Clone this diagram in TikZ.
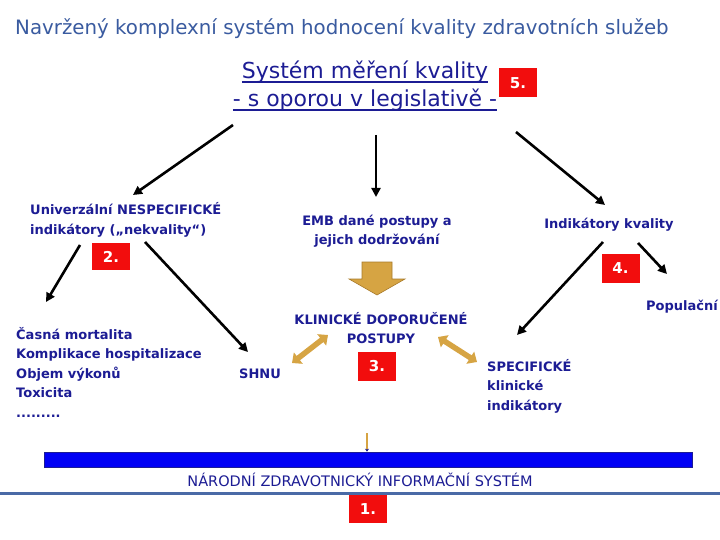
\documentclass[tikz,border=0pt]{standalone}
\usepackage{fontspec}
\setmainfont{DejaVu Sans}
\usepackage{tikz}
\usetikzlibrary{arrows.meta,positioning,calc}
\definecolor{nzisNavy}{HTML}{1C1C94}
\definecolor{nzisTitle}{HTML}{3A5BA0}
\definecolor{nzisRed}{HTML}{F20D0D}
\definecolor{nzisGold}{HTML}{D6A443}
\definecolor{nzisGoldDark}{HTML}{A87A2A}
\definecolor{nzisBlue}{HTML}{0000F5}
\definecolor{nzisRule}{HTML}{4A6AA6}
\newsavebox{\nzisbox}
\newcommand{\nzisul}[1]{\sbox{\nzisbox}{#1}%
  \makebox[0pt][l]{\rule[-4pt]{\wd\nzisbox}{1.6pt}}\usebox{\nzisbox}}

\begin{document}
\begin{tikzpicture}[x=1pt,y=-1pt,
    lbl/.style={text=nzisNavy,font=\fontsize{13}{19.5}\selectfont\bfseries,inner sep=0pt},
    num/.style={fill=nzisRed,text=white,font=\fontsize{15}{15}\selectfont\bfseries,
                minimum width=38pt,minimum height=29pt,inner sep=0pt},
    arr/.style={draw=black,line width=2.6pt,-{Triangle[length=9pt,width=9pt]}},
    dbl/.style={draw=nzisGold,line width=5.5pt,
                {Triangle[length=8pt,width=14pt]}-{Triangle[length=8pt,width=14pt]}}]
  \useasboundingbox[fill=white] (0,0) rectangle (720,540);
  \node[anchor=west,inner sep=0pt,text=nzisTitle,font=\fontsize{19.8}{19.8}\selectfont]
    (title) at (15,29) {Navržený komplexní systém hodnocení kvality zdravotních služeb};
  \node[text=nzisNavy,font=\fontsize{22}{28}\selectfont,align=center,inner sep=0pt]
    (sys) at (365,86) {\nzisul{Systém měření kvality}\\\nzisul{- s oporou v legislativě -}};
  \node[num] (n5) at (518,83) {5.};

  \node[lbl,anchor=west,align=left] (univ) at (30,220)
    {Univerzální NESPECIFICKÉ\\indikátory („nekvality“)};
  \node[num,minimum height=27pt] (n2) at (111,256.5) {2.};
  \node[lbl,align=center] (emb) at (377,231) {EMB dané postupy a\\jejich dodržování};
  \node[lbl] (indik) at (609,225) {Indikátory kvality};
  \node[num] (n4) at (620.5,268.5) {4.};
  \node[lbl] (popul) at (682,307) {Populační};

  \node[lbl,anchor=west,align=left] (list) at (16,372)
    {Časná mortalita\\Komplikace hospitalizace\\Objem výkonů\\Toxicita\\.........};
  \node[lbl] (shnu) at (260,374) {SHNU};
  \node[lbl,align=center] (klin) at (381,328) {KLINICKÉ DOPORUČENÉ\\POSTUPY};
  \node[num] (n3) at (377,366.5) {3.};
  \node[lbl,anchor=west,align=left] (spec) at (487,386)
    {SPECIFICKÉ\\klinické\\indikátory};

  \node[fill=nzisBlue,draw=nzisNavy,line width=0.6pt,minimum width=648pt,
        minimum height=15pt,inner sep=0pt] (bar) at (368,459.5) {};
  \node[text=nzisNavy,font=\fontsize{14.5}{14.5}\selectfont,inner sep=0pt]
    (nzis) at (360,480) {NÁRODNÍ ZDRAVOTNICKÝ INFORMAČNÍ SYSTÉM};
  \draw[nzisRule,line width=3pt] (0,493) -- (720,493);
  \node[num,minimum height=28pt] (n1) at (368,509) {1.};

  \draw[arr] ($(sys)+(-132,39)$) -- ($(univ.west)+(103,-25)$);
  \draw[arr] ($(sys)+(11,49)$) -- ($(emb)+(-1,-34)$);
  \draw[arr] ($(sys)+(151,46)$) -- ($(indik)+(-4,-20)$);
  \draw[arr] ($(univ.west)+(50,25)$) -- ($(list.west)+(30,-70)$);
  \draw[arr] ($(univ.west)+(115,22)$) -- ($(shnu)+(-12,-22)$);
  \draw[arr] ($(indik)+(-6,17)$) -- ($(spec.west)+(30,-51)$);
  \draw[arr] ($(indik)+(29,18)$) -- ($(popul)+(-15,-33)$);

  \draw[nzisGoldDark,fill=nzisGold,line width=0.6pt] ($(emb)+(-15,31)$) -- ++(30,0)
    -- ++(0,17) -- ++(13,0) -- ++(-28,16) -- ++(-28,-16) -- ++(13,0) -- cycle;
  \draw[dbl] ($(shnu)+(32,-11)$) -- ($(klin)+(-53,7)$);
  \draw[dbl] ($(klin)+(57,9)$) -- ($(spec.west)+(-10,-24)$);

  \coordinate (feed) at (367,433);
  \draw[nzisGold,line width=1.5pt,-{Stealth[nzisNavy,length=3pt,width=4pt]}]
    (feed) -- (feed |- bar.north);
\end{tikzpicture}
\end{document}
